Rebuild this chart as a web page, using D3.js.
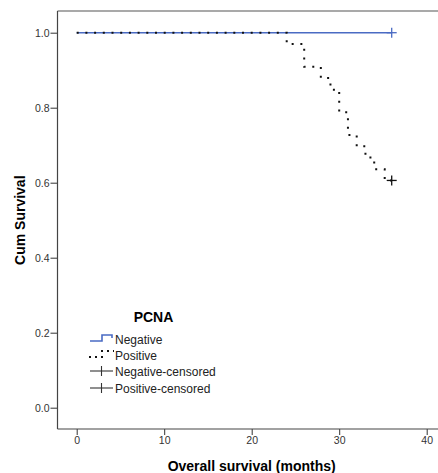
<!DOCTYPE html>
<html>
<head>
<meta charset="utf-8">
<script src="https://cdn.jsdelivr.net/npm/d3@7"></script>
<style>
  body { margin: 0; background: #fff; }
  svg text { font-family: "Liberation Sans", Arial, sans-serif; }
</style>
</head>
<body>
<div class="chart"></div>
<script>
// Kaplan-Meier steps (months, survival after event)
var negTimes = [0, 36];
var negSurv  = [1.0, 1.0];
var posTimes = [0, 24, 26, 27.9, 29, 30, 31, 32, 33, 34, 35.2, 36];
var posSurv  = [1.0, 0.970, 0.909, 0.879, 0.848, 0.788, 0.727, 0.697, 0.667, 0.636, 0.606, 0.606];
var censorNeg = [[36, 1.0]];
var censorPos = [[36, 0.606]];
var xTicks = [0, 10, 20, 30, 40];
var yTicks = [0, 0.2, 0.4, 0.6, 0.8, 1.0];
var legendLabels = ["Negative", "Positive", "Negative-censored", "Positive-censored"];

var W = 438, H = 473;
var frame = { left: 57.5, top: 11, bottom: 429, right: 438 };
var blue = "#4a6bc3";

var x = d3.scaleLinear().domain([0, 40]).range([76.7, 426.7]);
var y = d3.scaleLinear().domain([0, 1]).range([407.7, 32.7]);

var svg = d3.select(".chart").append("svg")
    .attr("width", W)
    .attr("height", H);

// frame: top border light, axis lines dark
svg.append("line")
    .attr("x1", frame.left).attr("x2", frame.right)
    .attr("y1", frame.top).attr("y2", frame.top)
    .attr("stroke", "#8c8c8c").attr("stroke-width", 1.5);

var yAxis = d3.axisLeft(y).tickValues(yTicks).tickFormat(d3.format(".1f"))
    .tickSize(7).tickPadding(1).tickSizeOuter(0);
var xAxis = d3.axisBottom(x).tickValues(xTicks).tickFormat(d3.format("d"))
    .tickSize(6).tickPadding(2).tickSizeOuter(0);

var gy = svg.append("g")
    .attr("transform", "translate(" + frame.left + ",0)")
    .call(yAxis);
var gx = svg.append("g")
    .attr("transform", "translate(0," + frame.bottom + ")")
    .call(xAxis);

[gx, gy].forEach(function(g) {
  g.select(".domain").remove();
  g.selectAll(".tick line").attr("stroke", "#333");
  g.selectAll(".tick text")
    .attr("fill", "#333")
    .style("font-size", "10.5px");
});

svg.append("line")
    .attr("x1", frame.left).attr("x2", frame.left)
    .attr("y1", frame.top).attr("y2", frame.bottom)
    .attr("stroke", "#444").attr("stroke-width", 1.2);
svg.append("line")
    .attr("x1", frame.left).attr("x2", frame.right)
    .attr("y1", frame.bottom).attr("y2", frame.bottom)
    .attr("stroke", "#444").attr("stroke-width", 1.2);

// axis titles
svg.append("text")
    .attr("x", (x.range()[0] + x.range()[1]) / 2)
    .attr("y", 470.5)
    .attr("text-anchor", "middle")
    .style("font-size", "14px")
    .style("font-weight", "bold")
    .text("Overall survival (months)");

svg.append("text")
    .attr("transform", "translate(25," + ((y.range()[0] + y.range()[1]) / 2) + ") rotate(-90)")
    .attr("text-anchor", "middle")
    .style("font-size", "14px")
    .style("font-weight", "bold")
    .text("Cum Survival");

// step curves
var line = d3.line()
    .curve(d3.curveStepAfter)
    .x(function(d) { return x(d[0]); })
    .y(function(d) { return y(d[1]); });

var negData = d3.zip(negTimes, negSurv);
var posData = d3.zip(posTimes, posSurv);

svg.append("path")
    .datum(negData)
    .attr("fill", "none")
    .attr("stroke", blue)
    .attr("stroke-width", 1.6)
    .attr("d", line);

svg.append("path")
    .datum(posData)
    .attr("fill", "none")
    .attr("stroke", "#111")
    .attr("stroke-width", 2)
    .attr("stroke-dasharray", "2,6.7")
    .attr("d", line);

// censor marks
function cross(g, px, py, col) {
  g.append("line").attr("x1", px - 5).attr("x2", px + 5).attr("y1", py).attr("y2", py)
    .attr("stroke", col).attr("stroke-width", 1.3);
  g.append("line").attr("x1", px).attr("x2", px).attr("y1", py - 5).attr("y2", py + 5)
    .attr("stroke", col).attr("stroke-width", 1.3);
}
censorNeg.forEach(function(d) { cross(svg, x(d[0]), y(d[1]), blue); });
censorPos.forEach(function(d) { cross(svg, x(d[0]), y(d[1]), "#111"); });

// legend
var lg = svg.append("g");
lg.append("text")
    .attr("x", 153.5).attr("y", 322)
    .attr("text-anchor", "middle")
    .style("font-size", "14px")
    .style("font-weight", "bold")
    .text("PCNA");

var rowY = [339, 355, 371, 388];
legendLabels.forEach(function(label, i) {
  lg.append("text")
    .attr("x", 115).attr("y", rowY[i] + 4.5)
    .attr("fill", "#222")
    .style("font-size", "12px")
    .text(label);
});

lg.append("path")
    .attr("d", "M90," + (rowY[0] + 2) + "H102V" + (rowY[0] - 4) + "H112V" + (rowY[0] - 1))
    .attr("fill", "none").attr("stroke", blue).attr("stroke-width", 1.6);
lg.append("path")
    .attr("d", "M89," + (rowY[1] + 2) + "H102V" + (rowY[1] - 4) + "H114")
    .attr("fill", "none").attr("stroke", "#111").attr("stroke-width", 2)
    .attr("stroke-dasharray", "2,4");
[2, 3].forEach(function(i) {
  lg.append("line").attr("x1", 90).attr("x2", 113).attr("y1", rowY[i]).attr("y2", rowY[i])
    .attr("stroke", "#333").attr("stroke-width", 1.1);
  lg.append("line").attr("x1", 101.5).attr("x2", 101.5).attr("y1", rowY[i] - 5).attr("y2", rowY[i] + 5)
    .attr("stroke", "#333").attr("stroke-width", 1.1);
});
</script>
</body>
</html>
